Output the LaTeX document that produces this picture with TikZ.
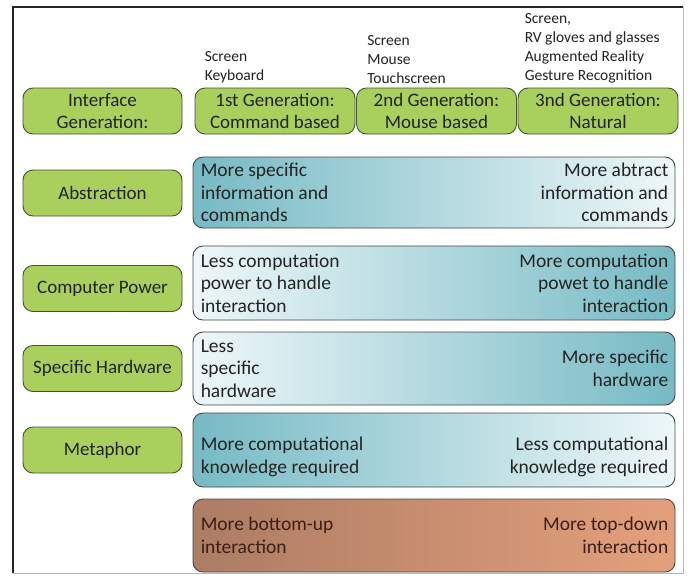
\documentclass[tikz,border=0pt]{standalone}
\usepackage{fontspec}
\setmainfont{Carlito}
\definecolor{grn}{RGB}{169,207,92}
\definecolor{grnline}{RGB}{72,82,52}
\definecolor{tealD}{RGB}{118,186,196}
\definecolor{tealL}{RGB}{238,247,249}
\definecolor{brnL}{RGB}{172,124,100}
\definecolor{brnR}{RGB}{228,160,124}
\definecolor{boxline}{RGB}{70,70,70}
\definecolor{txt}{RGB}{35,35,35}
\definecolor{brntxt}{RGB}{60,30,20}
\begin{document}
\begin{tikzpicture}[x=1pt,y=-1pt,
  gbox/.style={draw=grnline, fill=grn, rounded corners=10pt, line width=0.9pt,
    minimum width=159pt, minimum height=46pt, align=center, inner sep=0pt,
    font=\fontsize{19}{22.5}\selectfont, text=txt},
  band/.style={draw=boxline, rounded corners=10pt, line width=0.9pt,
    minimum width=482pt, inner sep=0pt},
  lefttxt/.style={anchor=west, align=left, inner sep=0pt,
    font=\fontsize{19.5}{22.5}\selectfont, text=txt},
  righttxt/.style={anchor=east, align=right, inner sep=0pt,
    font=\fontsize{19.5}{22.5}\selectfont, text=txt},
  toplabel/.style={anchor=south west, align=left, inner sep=0pt,
    font=\fontsize{15.5}{19}\selectfont, text=txt}]
\useasboundingbox (0,0) rectangle (690,576);
\fill[white] (0,0) rectangle (690,576);
% frame
\draw[gray!55, line width=0.8pt] (683,7) -- (683,573) -- (13,573);
\draw[black!85, line width=1.4pt] (13,573) -- (13,7) -- (683,7);

% header row
\node[gbox] (ig) at (102.5,111) {Interface\\Generation:};
\node[gbox, minimum width=160pt] (g1) at (275,111) {1st Generation:\\Command based};
\node[gbox, minimum width=160pt] (g2) at (436.5,111) {2nd Generation:\\Mouse based};
\node[gbox, minimum width=160pt] (g3) at (598,111) {3nd Generation:\\Natural};
\node[toplabel] (l1) at ([xshift=10pt,yshift=4pt]g1.north west) {Screen\\Keyboard};
\node[toplabel] (l2) at ([xshift=11pt,yshift=4pt]g2.north west) {Screen\\Mouse\\Touchscreen};
\node[toplabel] (l3) at ([xshift=7pt,yshift=4pt]g3.north west) {Screen,\\RV gloves and glasses\\Augmented Reality\\Gesture Recognition};

% Abstraction
\node[gbox] (ab) at (102.5,193) {Abstraction};
\node[band, minimum height=71pt, left color=tealD, right color=tealL] (abb) at (434,192.5) {};
\node[lefttxt] (abl) at ([xshift=8pt]abb.west) {More specific\\information and\\commands};
\node[righttxt] (abr) at ([xshift=-7pt]abb.east) {More abtract\\information and\\commands};

% Computer Power
\node[gbox] (cp) at (102.5,288.5) {Computer Power};
\node[band, minimum height=74pt, left color=tealL, right color=tealD] (cpb) at (434,283) {};
\node[lefttxt] (cpl) at ([xshift=8pt]cpb.west) {Less computation\\power to handle\\interaction};
\node[righttxt] (cpr) at ([xshift=-7pt]cpb.east) {More computation\\powet to handle\\interaction};

% Specific Hardware
\node[gbox] (sh) at (102.5,368.5) {Specific Hardware};
\node[band, minimum height=73pt, left color=tealL, right color=tealD] (shb) at (434,368.5) {};
\node[lefttxt] (shl) at ([xshift=8pt]shb.west) {Less\\specific\\hardware};
\node[righttxt] (shr) at ([xshift=-7pt]shb.east) {More specific\\hardware};

% Metaphor
\node[gbox] (mp) at (102.5,450) {Metaphor};
\node[band, minimum height=74pt, left color=tealD, right color=tealL] (mpb) at (434,450) {};
\node[lefttxt] (mpl) at ([xshift=8pt,yshift=-7pt]mpb.west) {More computational\\knowledge required};
\node[righttxt] (mpr) at ([xshift=-7pt,yshift=-7pt]mpb.east) {Less computational\\knowledge required};

% Interaction
\node[band, minimum height=73pt, left color=brnL, right color=brnR] (inb) at (434,535.5) {};
\node[lefttxt, text=brntxt] (inl) at ([xshift=8pt]inb.west) {More bottom-up\\interaction};
\node[righttxt, text=brntxt] (inr) at ([xshift=-7pt]inb.east) {More top-down\\interaction};
\end{tikzpicture}
\end{document}
